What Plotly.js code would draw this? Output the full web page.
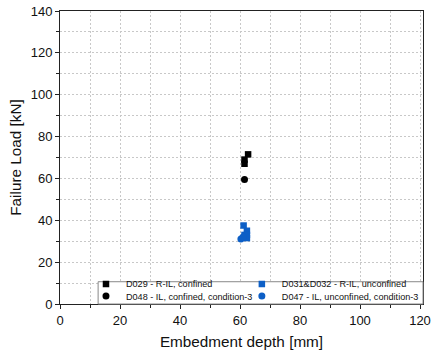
<!DOCTYPE html>
<html>
<head>
<meta charset="utf-8">
<script src="https://cdn.plot.ly/plotly-3.0.1.min.js"></script>
<style>html,body{margin:0;padding:0;background:#fff;}#chart{width:433px;height:353px;}</style>
</head>
<body>
<div id="chart"></div>
<script>
const namesList = ["D029 - R-IL, confined", "D031&D032 - R-IL, unconfined", "D048 - IL, confined, condition-3", "D047 - IL, unconfined, condition-3"];
const d029X = [61.5, 61.5, 62.7];
const d029Y = [67, 69, 71.5];
const d031X = [61.2, 61.5, 62.3, 62.3, 62.3];
const d031Y = [37.5, 33, 35, 33, 31.5];
const d048X = [61.5];
const d048Y = [59.5];
const d047X = [60.3, 61];
const d047Y = [31, 32];
const xTicks = [0, 20, 40, 60, 80, 100, 120];
const yTicks = [0, 20, 40, 60, 80, 100, 120, 140];

const blue = '#0d5fc6';
const traces = [
  {x: d029X, y: d029Y, name: namesList[0], legend: 'legend', mode: 'markers', type: 'scatter', marker: {symbol: 'square', size: 6.5, color: '#000'}},
  {x: d048X, y: d048Y, name: namesList[2], legend: 'legend3', mode: 'markers', type: 'scatter', marker: {symbol: 'circle', size: 7, color: '#000'}},
  {x: d031X, y: d031Y, name: namesList[1], legend: 'legend2', mode: 'markers', type: 'scatter', marker: {symbol: 'square', size: 6.5, color: blue}},
  {x: d047X, y: d047Y, name: namesList[3], legend: 'legend4', mode: 'markers', type: 'scatter', marker: {symbol: 'circle', size: 7, color: blue}}
];

const gridCol = '#c8c8c8';
const tickFont = {family: 'Liberation Sans, Arial, sans-serif', size: 13, color: '#111'};
const titleFont = {family: 'Liberation Sans, Arial, sans-serif', size: 15.3, color: '#111'};
const axisCommon = {
  showline: true, linecolor: '#222', linewidth: 1, mirror: true,
  ticks: 'outside', ticklen: 4, tickcolor: '#222',
  showgrid: true, gridcolor: gridCol, griddash: '2px,2px', gridwidth: 1,
  zeroline: false,
  tickfont: tickFont,
  minor: {dtick: 10, ticks: 'outside', ticklen: 3, tickcolor: '#222', showgrid: true, gridcolor: gridCol, griddash: '2px,2px', gridwidth: 1}
};

const legendFont = {family: 'Liberation Sans, Arial, sans-serif', size: 9.1, color: '#111'};
function leg(x, y) {
  return {orientation: 'v', x: x, xanchor: 'left', y: y, yanchor: 'middle',
    bgcolor: 'rgba(0,0,0,0)', borderwidth: 0, font: legendFont, tracegroupgap: 0, itemwidth: 30};
}
const layout = {
  width: 433, height: 353,
  margin: {l: 60, r: 10, t: 11, b: 49, autoexpand: false},
  paper_bgcolor: '#fff', plot_bgcolor: '#fff',
  showlegend: true,
  xaxis: Object.assign({}, axisCommon, {
    range: [0, 121], tickvals: xTicks, ticktext: xTicks.map(String),
    title: {text: 'Embedment depth [mm]', font: titleFont, standoff: 9}
  }),
  yaxis: Object.assign({}, axisCommon, {
    range: [0, 140], tickvals: yTicks, ticktext: yTicks.map(String),
    title: {text: 'Failure Load [kN]', font: titleFont, standoff: 5}
  }),
  shapes: [{
    type: 'rect', xref: 'paper', yref: 'paper', x0: 0.105, x1: 1, y0: 0, y1: 0.076,
    fillcolor: '#fff', line: {color: '#888', width: 1}, layer: 'above'
  }],
  legend: leg(0.0716, 0.0685),
  legend2: leg(0.501, 0.0685),
  legend3: leg(0.0716, 0.0274),
  legend4: leg(0.501, 0.0274)
};

Plotly.newPlot('chart', traces, layout, {displayModeBar: false, staticPlot: true});
</script>
</body>
</html>
